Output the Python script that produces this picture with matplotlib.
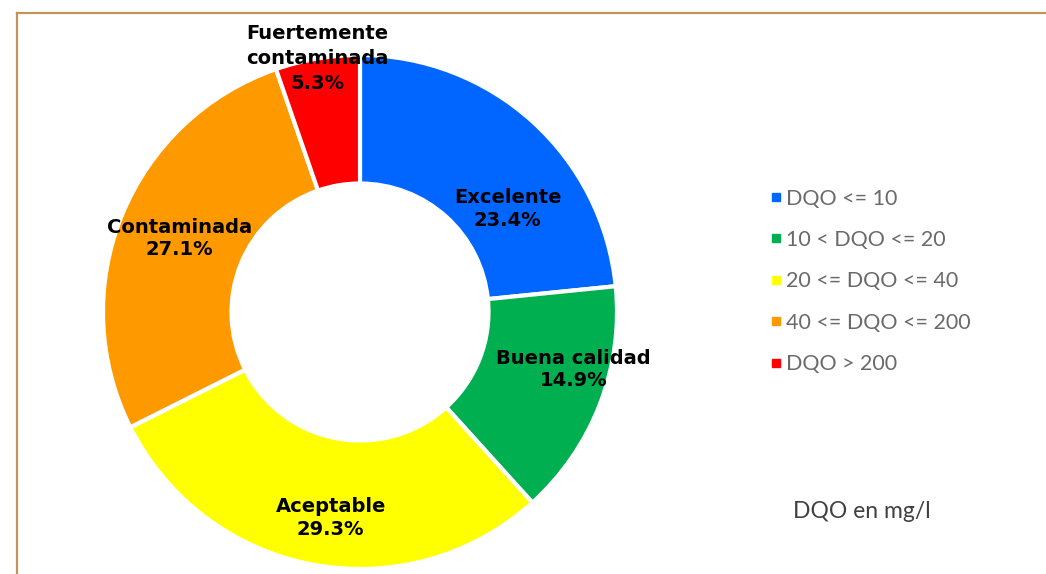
import numpy as np
import matplotlib
matplotlib.use("Agg")
import matplotlib.pyplot as plt
from matplotlib.lines import Line2D

# data
categorias = ["Excelente", "Buena calidad", "Aceptable", "Contaminada", "Fuertemente\ncontaminada"]
porcentajes = [23.4, 14.9, 29.3, 27.1, 5.3]
rangos = ["DQO <= 10", "10 < DQO <= 20", "20 <= DQO <= 40", "40 <= DQO <= 200", "DQO > 200"]
colores = ["#0066FF", "#00B050", "#FFFF00", "#FF9900", "#FF0000"]

# label placement tweaks (radius, angle shift in degrees)
lab_r = [0.70, 0.86, 0.81, 0.76, 1.0]
lab_da = [-13, 6, 2.5, 0, 0]

plt.rcParams['font.family'] = ['Lato', 'DejaVu Sans']

fig = plt.figure(figsize=(10.46, 5.74), dpi=100)
W, H = 1046, 574

# border (top and left edges visible)
fig.add_artist(Line2D([17 / W, 1.0], [1 - 13 / H, 1 - 13 / H], color="#C0955C", lw=1.6, transform=fig.transFigure))
fig.add_artist(Line2D([17 / W, 17 / W], [0, 1 - 13 / H], color="#C0955C", lw=1.6, transform=fig.transFigure))

cx, cy, R = 360, 312, 257
ax = fig.add_axes([(cx - R) / W, (H - cy - R) / H, 2 * R / W, 2 * R / H])
wedges, _ = ax.pie(porcentajes, colors=colores, startangle=90, counterclock=False,
                   radius=1.0, wedgeprops=dict(width=0.5, edgecolor="white", linewidth=3))
ax.set_xlim(-1, 1)
ax.set_ylim(-1, 1)
ax.set_aspect("equal")
ax.axis("off")

for w, cat, p, r, da in zip(wedges, categorias, porcentajes, lab_r, lab_da):
    ang = np.deg2rad((w.theta1 + w.theta2) / 2 + da)
    ls = 1.4 if "\n" in cat else 1.25
    ax.text(r * np.cos(ang), r * np.sin(ang), f"{cat}\n{p:.1f}%", ha="center", va="center",
            fontsize=14, fontweight="bold", color="black", linespacing=ls,
            family="DejaVu Sans")

handles = [Line2D([], [], marker="s", color=c, linestyle="none", markersize=6) for c in colores]
leg = fig.legend(handles, rangos, loc="upper left", bbox_to_anchor=(761 / W, 1 - 180 / H),
                 frameon=False, fontsize=15.5, labelspacing=0.995, handlelength=0.6,
                 handletextpad=0.15, borderaxespad=0)
for t in leg.get_texts():
    t.set_color("#6a6a6a")

fig.text(862 / W, 1 - 512 / H, "DQO en mg/l", ha="center", va="center", fontsize=16.5,
         color="#404040")

fig.savefig("out.png", dpi=100)
